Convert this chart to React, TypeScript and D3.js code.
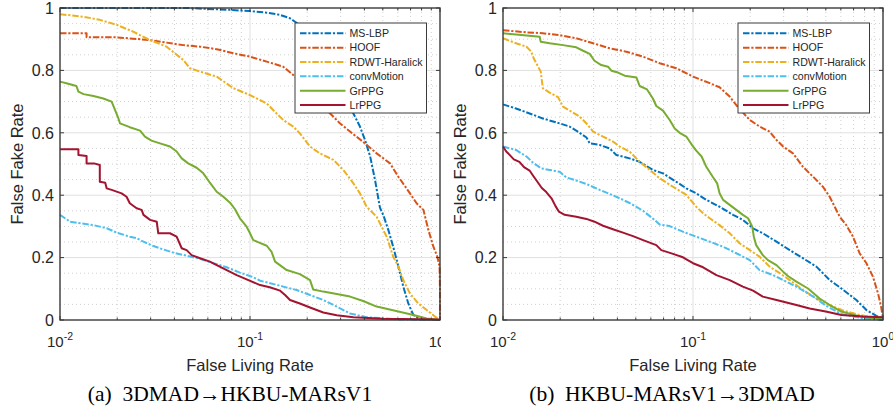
import React from 'react';
import * as d3 from 'd3';

// series names and colours (MATLAB default order)
const seriesNames = ['MS-LBP', 'HOOF', 'RDWT-Haralick', 'convMotion', 'GrPPG', 'LrPPG'];
const seriesColors = ['#0072BD', '#D95319', '#EDB120', '#4DBEEE', '#77AC30', '#A2142F'];
const seriesDashed = [true, true, true, true, false, false];

const yTicks = [0, 0.2, 0.4, 0.6, 0.8, 1];
const yTickLabels = ['0', '0.2', '0.4', '0.6', '0.8', '1'];
const xTicks = [0.01, 0.1, 1];
const xTickExps = ['-2', '-1', '0'];
const captions = ['(a)  3DMAD\u2192HKBU-MARsV1', '(b)  HKBU-MARsV1\u21923DMAD'];

// panel (a): [False Living Rate, False Fake Rate]
const aMsLbp = [[0.01, 1], [0.0464, 1], [0.0785, 0.994], [0.1, 0.99], [0.1225, 0.985], [0.144, 0.978], [0.1624, 0.967], [0.1726, 0.956], [0.2, 0.93], [0.35, 0.662], [0.379, 0.62], [0.403, 0.577], [0.429, 0.524], [0.455, 0.449], [0.483, 0.36], [0.504, 0.335], [0.535, 0.288], [0.567, 0.235], [0.604, 0.171], [0.641, 0.107], [0.681, 0.053], [0.724, 0.016], [0.785, 0.002], [1, 0]];
const aHoof = [[0.01, 0.919], [0.0138, 0.919], [0.0138, 0.906], [0.0199, 0.906], [0.0298, 0.897], [0.0364, 0.889], [0.0446, 0.881], [0.0546, 0.876], [0.0668, 0.868], [0.0817, 0.855], [0.1, 0.844], [0.1225, 0.828], [0.1496, 0.812], [0.169, 0.785], [0.264, 0.662], [0.298, 0.63], [0.336, 0.604], [0.403, 0.566], [0.464, 0.534], [0.546, 0.502], [0.604, 0.459], [0.695, 0.406], [0.753, 0.374], [0.818, 0.353], [0.869, 0.288], [0.923, 0.235], [0.968, 0.203], [0.995, 0.171], [1, 0.1], [1, 0]];
const aRdwt = [[0.01, 0.98], [0.0133, 0.972], [0.0162, 0.962], [0.0199, 0.946], [0.0243, 0.924], [0.0298, 0.897], [0.0364, 0.876], [0.0446, 0.833], [0.0483, 0.807], [0.0546, 0.796], [0.0668, 0.78], [0.0817, 0.743], [0.1, 0.721], [0.1225, 0.694], [0.138, 0.662], [0.1496, 0.641], [0.169, 0.62], [0.183, 0.598], [0.207, 0.556], [0.233, 0.534], [0.275, 0.513], [0.31, 0.481], [0.35, 0.438], [0.379, 0.406], [0.411, 0.363], [0.464, 0.331], [0.524, 0.267], [0.567, 0.203], [0.604, 0.171], [0.641, 0.128], [0.695, 0.085], [0.769, 0.053], [0.851, 0.032], [0.951, 0.009], [1, 0.002]];
const aConv = [[0.01, 0.337], [0.0113, 0.315], [0.015, 0.304], [0.0176, 0.294], [0.0199, 0.28], [0.0233, 0.267], [0.0253, 0.262], [0.0275, 0.251], [0.031, 0.237], [0.035, 0.226], [0.0395, 0.216], [0.0464, 0.206], [0.0546, 0.196], [0.0641, 0.182], [0.0754, 0.169], [0.0885, 0.152], [0.104, 0.137], [0.113, 0.126], [0.1496, 0.107], [0.176, 0.096], [0.207, 0.08], [0.243, 0.064], [0.286, 0.043], [0.336, 0.021], [0.411, 0.009], [0.604, 0.002], [1, 0]];
const aGr = [[0.01, 0.764], [0.0108, 0.759], [0.0122, 0.75], [0.0125, 0.732], [0.0133, 0.724], [0.015, 0.718], [0.0169, 0.71], [0.0187, 0.7], [0.0195, 0.673], [0.0203, 0.646], [0.0207, 0.63], [0.0233, 0.618], [0.0264, 0.607], [0.028, 0.588], [0.0303, 0.575], [0.0336, 0.566], [0.0379, 0.556], [0.0411, 0.54], [0.0437, 0.518], [0.0473, 0.502], [0.0524, 0.488], [0.0568, 0.47], [0.0615, 0.44], [0.0668, 0.411], [0.0724, 0.395], [0.0785, 0.376], [0.0834, 0.355], [0.0885, 0.326], [0.096, 0.299], [0.1, 0.278], [0.104, 0.256], [0.111, 0.249], [0.1225, 0.238], [0.13, 0.218], [0.1355, 0.187], [0.156, 0.16], [0.183, 0.147], [0.207, 0.128], [0.215, 0.098], [0.243, 0.091], [0.286, 0.083], [0.336, 0.075], [0.394, 0.061], [0.464, 0.043], [0.604, 0.027], [0.724, 0.016], [0.851, 0.005], [1, 0]];
const aLr = [[0.01, 0.547], [0.0125, 0.547], [0.0125, 0.529], [0.0138, 0.526], [0.0138, 0.502], [0.0151, 0.502], [0.0162, 0.497], [0.0162, 0.443], [0.0173, 0.44], [0.0176, 0.422], [0.0187, 0.417], [0.0211, 0.406], [0.0224, 0.395], [0.0233, 0.374], [0.0253, 0.358], [0.0269, 0.353], [0.0275, 0.337], [0.0298, 0.321], [0.0323, 0.315], [0.0329, 0.278], [0.0379, 0.278], [0.0411, 0.267], [0.0437, 0.23], [0.0464, 0.224], [0.0493, 0.208], [0.0546, 0.198], [0.0615, 0.187], [0.0668, 0.176], [0.0754, 0.16], [0.0851, 0.144], [0.096, 0.13], [0.113, 0.112], [0.127, 0.105], [0.144, 0.094], [0.153, 0.08], [0.1624, 0.064], [0.183, 0.053], [0.207, 0.04], [0.243, 0.024], [0.286, 0.015], [0.35, 0.009], [0.5, 0.004], [1, 0.002]];

// panel (b)
const bMsLbp = [[0.01, 0.691], [0.0117, 0.678], [0.0138, 0.662], [0.0162, 0.646], [0.0199, 0.63], [0.0224, 0.62], [0.0243, 0.607], [0.0275, 0.585], [0.0286, 0.566], [0.0323, 0.561], [0.0364, 0.55], [0.0395, 0.529], [0.0464, 0.518], [0.0524, 0.507], [0.0615, 0.481], [0.0695, 0.47], [0.0817, 0.443], [0.0922, 0.422], [0.104, 0.406], [0.1175, 0.385], [0.138, 0.363], [0.1624, 0.337], [0.183, 0.321], [0.207, 0.294], [0.233, 0.278], [0.275, 0.251], [0.323, 0.224], [0.379, 0.198], [0.446, 0.171], [0.524, 0.128], [0.604, 0.101], [0.724, 0.064], [0.818, 0.032], [0.923, 0.013], [1, 0.005]];
const bHoof = [[0.01, 0.929], [0.0133, 0.922], [0.0162, 0.919], [0.0199, 0.913], [0.0243, 0.903], [0.0298, 0.887], [0.0364, 0.871], [0.0446, 0.86], [0.0546, 0.844], [0.0668, 0.823], [0.0817, 0.807], [0.1, 0.78], [0.1225, 0.759], [0.138, 0.746], [0.156, 0.716], [0.1726, 0.682], [0.199, 0.641], [0.224, 0.62], [0.253, 0.604], [0.275, 0.577], [0.298, 0.556], [0.336, 0.534], [0.379, 0.491], [0.429, 0.459], [0.483, 0.427], [0.524, 0.395], [0.557, 0.363], [0.592, 0.331], [0.641, 0.304], [0.695, 0.267], [0.753, 0.214], [0.818, 0.182], [0.885, 0.139], [0.942, 0.085], [0.977, 0.043], [1, 0.005]];
const bRdwt = [[0.01, 0.903], [0.0117, 0.887], [0.0133, 0.876], [0.0141, 0.86], [0.0145, 0.839], [0.0153, 0.812], [0.0158, 0.796], [0.0162, 0.743], [0.0176, 0.729], [0.0195, 0.714], [0.0207, 0.684], [0.0229, 0.668], [0.0253, 0.652], [0.0275, 0.63], [0.0298, 0.604], [0.0336, 0.588], [0.0379, 0.572], [0.0411, 0.556], [0.0464, 0.54], [0.0524, 0.507], [0.0592, 0.481], [0.0668, 0.454], [0.0785, 0.427], [0.0922, 0.401], [0.104, 0.363], [0.113, 0.342], [0.1225, 0.326], [0.138, 0.304], [0.156, 0.278], [0.176, 0.246], [0.199, 0.224], [0.224, 0.203], [0.253, 0.171], [0.286, 0.15], [0.323, 0.128], [0.379, 0.096], [0.446, 0.069], [0.524, 0.048], [0.604, 0.032], [0.753, 0.016], [1, 0.002]];
const bConv = [[0.01, 0.556], [0.0117, 0.545], [0.0133, 0.524], [0.0144, 0.504], [0.0159, 0.486], [0.0176, 0.481], [0.0199, 0.475], [0.0215, 0.457], [0.0243, 0.447], [0.0275, 0.436], [0.0323, 0.417], [0.0364, 0.404], [0.0411, 0.39], [0.0464, 0.375], [0.0546, 0.35], [0.0615, 0.325], [0.0668, 0.306], [0.0754, 0.301], [0.0885, 0.283], [0.104, 0.267], [0.1225, 0.251], [0.144, 0.235], [0.169, 0.214], [0.199, 0.192], [0.224, 0.16], [0.264, 0.144], [0.31, 0.123], [0.364, 0.101], [0.429, 0.075], [0.504, 0.045], [0.604, 0.019], [0.785, 0.005], [1, 0]];
const bGr = [[0.01, 0.919], [0.0156, 0.908], [0.0158, 0.892], [0.0176, 0.887], [0.0207, 0.881], [0.0243, 0.874], [0.0264, 0.863], [0.0286, 0.853], [0.0303, 0.831], [0.0329, 0.817], [0.0357, 0.812], [0.0372, 0.799], [0.0403, 0.793], [0.0437, 0.783], [0.0504, 0.777], [0.0524, 0.75], [0.0573, 0.739], [0.0615, 0.71], [0.0641, 0.686], [0.0695, 0.671], [0.0754, 0.641], [0.0801, 0.614], [0.0851, 0.6], [0.0922, 0.588], [0.098, 0.564], [0.104, 0.543], [0.111, 0.524], [0.1175, 0.491], [0.127, 0.459], [0.134, 0.438], [0.138, 0.406], [0.144, 0.385], [0.156, 0.369], [0.169, 0.353], [0.183, 0.337], [0.195, 0.326], [0.205, 0.299], [0.209, 0.267], [0.215, 0.24], [0.233, 0.208], [0.248, 0.192], [0.275, 0.176], [0.298, 0.155], [0.316, 0.141], [0.35, 0.123], [0.403, 0.101], [0.464, 0.069], [0.524, 0.048], [0.604, 0.027], [0.753, 0.011], [1, 0.002]];
const bLr = [[0.01, 0.556], [0.0104, 0.54], [0.0108, 0.53], [0.0114, 0.515], [0.0122, 0.507], [0.0129, 0.49], [0.0138, 0.479], [0.0145, 0.46], [0.0153, 0.44], [0.016, 0.423], [0.0169, 0.41], [0.018, 0.39], [0.0189, 0.365], [0.0197, 0.347], [0.0211, 0.337], [0.0243, 0.331], [0.0275, 0.324], [0.0303, 0.315], [0.0336, 0.302], [0.0379, 0.291], [0.0428, 0.28], [0.0483, 0.269], [0.0546, 0.256], [0.0641, 0.24], [0.0681, 0.224], [0.0785, 0.212], [0.0885, 0.201], [0.1, 0.182], [0.113, 0.169], [0.1328, 0.144], [0.156, 0.128], [0.183, 0.107], [0.207, 0.094], [0.233, 0.075], [0.275, 0.064], [0.35, 0.048], [0.411, 0.037], [0.5, 0.027], [0.604, 0.016], [0.785, 0.011], [1, 0.009]];

const panelSeries = [
  [aMsLbp, aHoof, aRdwt, aConv, aGr, aLr],
  [bMsLbp, bHoof, bRdwt, bConv, bGr, bLr],
];

const top = 8;
const bottom = 320;
const plotW = 380;
const axisFont = 'Liberation Sans, Arial, Helvetica, sans-serif';
const ink = '#262626';
const dashDot = '6.5,1.8,2.2,1.8';

const minorX = [2, 3, 4, 5, 6, 7, 8, 9].flatMap(m => [m * 0.01, m * 0.1]);
const minorY = d3.range(0.05, 1, 0.05).filter(v => Math.abs(v / 0.2 - Math.round(v / 0.2)) > 0.01);

const Panel = ({ idx, left, captionX }) => {
  const x = d3.scaleLog().domain([0.01, 1]).range([left, left + plotW]);
  const y = d3.scaleLinear().domain([0, 1]).range([bottom, top]);
  const line = d3.line().x(d => x(d[0])).y(d => y(d[1]));
  const right = left + plotW;
  const lgX = right - 145;
  const lgY = 23;
  const clipId = 'plotclip' + idx;

  return (
    <g>
      <defs>
        <clipPath id={clipId}>
          <rect x={left - 2} y={top - 2} width={plotW + 4} height={bottom - top + 4} />
        </clipPath>
      </defs>
      {/* grid */}
      {minorY.map(v => (
        <line key={'my' + v} x1={left} x2={right} y1={y(v)} y2={y(v)} stroke="#c4c4c4" strokeWidth={0.8} strokeDasharray="1,3" />
      ))}
      {minorX.map(v => (
        <line key={'mx' + v} x1={x(v)} x2={x(v)} y1={top} y2={bottom} stroke="#c4c4c4" strokeWidth={0.8} strokeDasharray="1,3" />
      ))}
      {yTicks.slice(1, -1).map(v => (
        <line key={'gy' + v} x1={left} x2={right} y1={y(v)} y2={y(v)} stroke="#e0e0e0" strokeWidth={1} />
      ))}
      <line x1={x(0.1)} x2={x(0.1)} y1={top} y2={bottom} stroke="#e0e0e0" strokeWidth={1} />

      {/* curves */}
      <g clipPath={`url(#${clipId})`}>
        {panelSeries[idx].map((s, i) => (
          <path key={i} d={line(s)} fill="none" stroke={seriesColors[i]} strokeWidth={2}
            strokeDasharray={seriesDashed[i] ? dashDot : null} strokeLinejoin="round" />
        ))}
      </g>

      {/* box and ticks */}
      <rect x={left} y={top} width={plotW} height={bottom - top} fill="none" stroke="#3a3a3a" strokeWidth={1.4} />
      {yTicks.map(v => (
        <g key={'ty' + v}>
          <line x1={left} x2={left + 4} y1={y(v)} y2={y(v)} stroke="#3a3a3a" />
          <line x1={right} x2={right - 4} y1={y(v)} y2={y(v)} stroke="#3a3a3a" />
        </g>
      ))}
      {xTicks.map(v => (
        <g key={'tx' + v}>
          <line x1={x(v)} x2={x(v)} y1={bottom} y2={bottom - 4} stroke="#3a3a3a" />
          <line x1={x(v)} x2={x(v)} y1={top} y2={top + 4} stroke="#3a3a3a" />
        </g>
      ))}
      {minorX.map(v => (
        <g key={'tmx' + v}>
          <line x1={x(v)} x2={x(v)} y1={bottom} y2={bottom - 2.5} stroke="#3a3a3a" />
          <line x1={x(v)} x2={x(v)} y1={top} y2={top + 2.5} stroke="#3a3a3a" />
        </g>
      ))}

      {/* tick labels */}
      {yTicks.map((v, i) => (
        <text key={'ly' + v} x={left - 6} y={y(v)} dy="0.36em" textAnchor="end" fontFamily={axisFont} fontSize={16} fill={ink}>
          {yTickLabels[i]}
        </text>
      ))}
      {xTicks.map((v, i) => (
        <text key={'lx' + v} x={x(v)} y={347} textAnchor="middle" fontFamily={axisFont} fontSize={15} fill={ink}>
          10<tspan dy={-7} fontSize={10.5}>{xTickExps[i]}</tspan>
        </text>
      ))}
      <text x={x(0.1)} y={371} textAnchor="middle" fontFamily={axisFont} fontSize={16.5} fill={ink}>False Living Rate</text>
      <text transform={`translate(${left - 43},${(top + bottom) / 2}) rotate(-90)`} dy="0.36em" textAnchor="middle"
        fontFamily={axisFont} fontSize={16.5} fill={ink}>False Fake Rate</text>

      {/* legend */}
      <rect x={lgX} y={lgY} width={131.5} height={90} fill="#fff" stroke="#3a3a3a" strokeWidth={1} />
      {seriesNames.map((n, i) => {
        const ly = lgY + 10.3 + i * 14.35;
        return (
          <g key={n}>
            <line x1={lgX + 5} x2={lgX + 50.5} y1={ly} y2={ly} stroke={seriesColors[i]} strokeWidth={2}
              strokeDasharray={seriesDashed[i] ? dashDot : null} />
            <text x={lgX + 54.5} y={ly} dy="0.36em" fontFamily={axisFont} fontSize={10.6} fill={ink}>{n}</text>
          </g>
        );
      })}

      {/* caption */}
      <text x={captionX} y={401} textAnchor="middle" fontFamily="Liberation Serif, Times New Roman, serif" fontSize={21.5} fill="#000" style={{ whiteSpace: 'pre' }}>
        {captions[idx]}
      </text>
    </g>
  );
};

export default function App() {
  return (
    <svg width={893} height={412} style={{ position: 'absolute', left: 0, top: 0, background: '#fff' }}>
      <defs>
        <clipPath id="leftHalf">
          <rect x={0} y={0} width={441} height={412} />
        </clipPath>
      </defs>
      <rect width={893} height={412} fill="#fff" />
      <g clipPath="url(#leftHalf)">
        <Panel idx={0} left={60} captionX={230} />
      </g>
      <Panel idx={1} left={503} captionX={672} />
    </svg>
  );
}
